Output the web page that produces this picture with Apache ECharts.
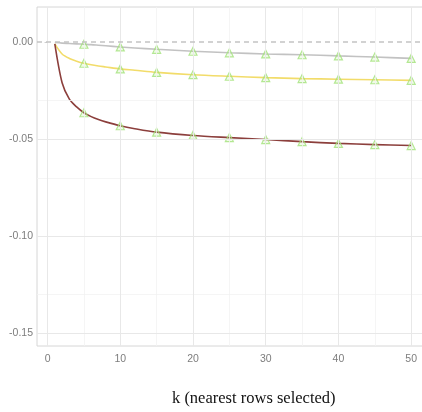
<!DOCTYPE html>
<html><head><meta charset="utf-8">
<script src="https://cdn.jsdelivr.net/npm/echarts@6/dist/echarts.min.js"></script>
<style>html,body{margin:0;padding:0;background:#fff}#c{width:422px;height:412px}</style>
</head><body><div id="c"></div>
<script>
const kVals = [1,2,3,4,5,6,7,8,10,12,15,20,25,30,35,40,45,50];
const grayVals = [-0.0003,-0.0006,-0.0008,-0.0010,-0.0012,-0.0014,-0.0017,-0.0020,-0.0026,-0.0031,-0.0038,-0.0048,-0.0056,-0.0062,-0.0066,-0.0072,-0.0078,-0.0085];
const yellowVals = [-0.0010,-0.0062,-0.0085,-0.0099,-0.0110,-0.0118,-0.0124,-0.0129,-0.0139,-0.0146,-0.0157,-0.0169,-0.0177,-0.0184,-0.0189,-0.0192,-0.0195,-0.0198];
const redVals = [-0.0010,-0.0210,-0.0295,-0.0335,-0.0365,-0.0385,-0.0400,-0.0412,-0.0432,-0.0447,-0.0465,-0.0482,-0.0493,-0.0503,-0.0514,-0.0523,-0.0529,-0.0534];
const markerK = [5,10,15,20,25,30,35,40,45,50];
const xTicks = [0,10,20,30,40,50];
const xMinor = [5,15,25,35,45];
const yTicks = [0,-0.05,-0.10,-0.15];
const yMinor = [-0.025,-0.075,-0.125];
const xTitle = 'k (nearest rows selected)';

const X_MIN = -1.45, X_MAX = 52.45, Y_MIN = -0.1567, Y_MAX = 0.018;

const chart = echarts.init(document.getElementById('c'), null, {renderer:'canvas'});
const pairs = vals => kVals.map((k,i)=>[k,vals[i]]);
const markers = vals => kVals.map((k,i)=>[k,vals[i]]).filter(p=>markerK.includes(p[0]));
const gridLine = (arr, axis, color, width) => arr.map(v => ({[axis]: v, lineStyle:{color:color,width:width,type:'solid'}}));

const lineSeries = (vals,color) => ({type:'line', data:pairs(vals), showSymbol:false, smooth:0.3,
  lineStyle:{color:color,width:1.6}, z:3, silent:true});
const markerSeries = vals => ({type:'scatter', data:markers(vals), symbol:'triangle', symbolSize:8,
  itemStyle:{color:'rgba(180,235,140,0.25)', borderColor:'#a2e27a', borderWidth:1.2}, z:4, silent:true});

chart.setOption({
  animation:false,
  grid:{left:37, right:-7, top:7, bottom:66, show:true, borderColor:'#d6d6d6', borderWidth:1,
        outerBoundsMode:'none', containLabel:false},
  xAxis:{type:'value', min:X_MIN, max:X_MAX,
    axisLine:{show:false}, splitLine:{show:false},
    axisTick:{show:true, customValues:xTicks, length:3, lineStyle:{color:'#cfcfcf'}},
    axisLabel:{customValues:xTicks, color:'#7d7d7d', fontSize:10.5, margin:8, fontFamily:'Liberation Sans'}},
  yAxis:{type:'value', min:Y_MIN, max:Y_MAX,
    axisLine:{show:false}, splitLine:{show:false},
    axisTick:{show:true, customValues:yTicks, length:3, lineStyle:{color:'#cfcfcf'}},
    axisLabel:{customValues:yTicks, color:'#7d7d7d', fontSize:10.5, margin:4, fontFamily:'Liberation Sans',
      formatter: v => v.toFixed(2)}},
  graphic:[{type:'text', left:172, top:390, style:{text:xTitle, fontFamily:'Liberation Serif', fontSize:16.5, fill:'#111'}}],
  series:[
    {type:'line', data:[], silent:true, markLine:{silent:true, symbol:['none','none'], label:{show:false}, animation:false,
      data:[].concat(gridLine(xMinor,'xAxis','#f3f3f3',0.8), gridLine(yMinor,'yAxis','#f3f3f3',0.8),
                     gridLine(xTicks,'xAxis','#e8e8e8',1), gridLine(yTicks.filter(v=>v!==0),'yAxis','#e8e8e8',1))}, z:1},
    {type:'line', data:[], silent:true, markLine:{silent:true, symbol:['none','none'], label:{show:false}, animation:false,
      data:[{yAxis:0, lineStyle:{color:'#c4c4c4', width:1.5, type:[5,4]}}]}, z:2},
    lineSeries(grayVals,'#c2c2c2'),
    lineSeries(yellowVals,'#f2dc6a'),
    lineSeries(redVals,'#8c3f3c'),
    markerSeries(grayVals),
    markerSeries(yellowVals),
    markerSeries(redVals)
  ]
});
</script></body></html>
